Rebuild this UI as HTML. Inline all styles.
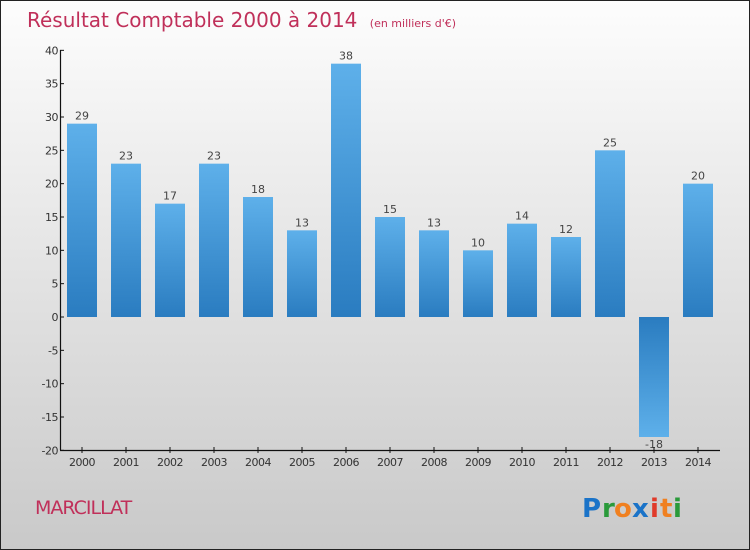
<!DOCTYPE html>
<html><head><meta charset="utf-8"><style>
body{margin:0}
svg{display:block;font-family:"DejaVu Sans","Liberation Sans",sans-serif}
</style></head><body>
<svg id="c" width="750" height="550" viewBox="0 0 750 550">
<defs>
<linearGradient id="bg" x1="0" y1="0" x2="0" y2="1"><stop offset="0" stop-color="#fdfdfd"/><stop offset="1" stop-color="#c9c9c9"/></linearGradient>
<linearGradient id="bp" x1="0" y1="0" x2="0" y2="1"><stop offset="0" stop-color="#5eb0ea"/><stop offset="1" stop-color="#2a7cc0"/></linearGradient>
<linearGradient id="bn" x1="0" y1="0" x2="0" y2="1"><stop offset="0" stop-color="#2a7cc0"/><stop offset="1" stop-color="#5eb0ea"/></linearGradient>
</defs>
<rect x="0.5" y="0.5" width="749" height="549" fill="url(#bg)" stroke="#222"/>
<text x="27" y="27" font-size="20" fill="#c0305a">Résultat Comptable 2000 à 2014 <tspan font-size="11" dx="6">(en milliers d'€)</tspan></text>
<g id="plot"></g>
<text x="35" y="514" font-size="19" fill="#c0305a" letter-spacing="-1">MARCILLAT</text>
<g font-size="26" font-weight="bold">
<text x="582" y="517" fill="#1a73c8">P</text><text x="602" y="517" fill="#2a9a3a">r</text><text x="614" y="517" fill="#f08020">o</text><text x="632" y="517" fill="#1a73c8">x</text><text x="650" y="517" fill="#e03a2a">i</text><text x="660" y="517" fill="#f08020">t</text><text x="673" y="517" fill="#2a9a3a">i</text>
</g>
</svg>
<script>
const years=["2000","2001","2002","2003","2004","2005","2006","2007","2008","2009","2010","2011","2012","2013","2014"];
const values=[29,23,17,23,18,13,38,15,13,10,14,12,25,-18,20];
const yTicks=[40,35,30,25,20,15,10,5,0,-5,-10,-15,-20];
const NS="http://www.w3.org/2000/svg";
const g=document.getElementById('plot');
const y=v=>317-v*(400/60);
const x=i=>82+i*44;
function el(t,a,txt){const e=document.createElementNS(NS,t);for(const k in a)e.setAttribute(k,a[k]);if(txt!==undefined)e.textContent=txt;g.appendChild(e);return e;}
values.forEach((v,i)=>{
 const top=Math.min(y(v),y(0)),h=Math.abs(y(v)-y(0));
 const r=el('rect',{x:x(i)-15,y:top,width:30,height:h,fill:v>=0?'url(#bp)':'url(#bn)'});
 
 
 const t=el('text',{x:x(i),y:v>=0?y(v)-4:y(v)+11,'text-anchor':'middle','font-size':11,fill:'#444'},String(v).replace('-','-'));
 
 
 const tk=el('line',{x1:x(i),x2:x(i),y1:447,y2:453,stroke:'#111'});
 
 
 const xl=el('text',{x:x(i),y:466,'text-anchor':'middle','font-size':11,fill:'#333','letter-spacing':'-0.5'},years[i]);
 
 
});
yTicks.forEach(v=>{
 const tk=el('line',{x1:60,x2:64,y1:y(v),y2:y(v),stroke:'#111'});
 
 
 const l=el('text',{x:58,y:y(v)+4,'text-anchor':'end','font-size':11,fill:'#333','letter-spacing':'-0.5'},v);
 
 
});
const ya=el('line',{x1:60.5,x2:60.5,y1:50,y2:450,stroke:'#111','stroke-width':1.2});


const xa=el('line',{x1:60,x2:720,y1:450.5,y2:450.5,stroke:'#111','stroke-width':1.2});


</script>
</body></html>
